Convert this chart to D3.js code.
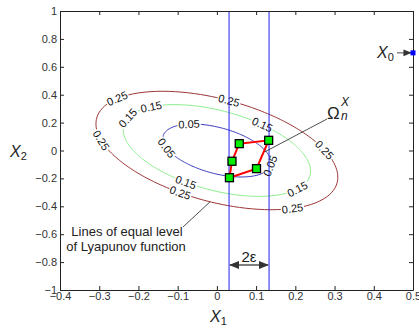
<!DOCTYPE html>
<html>
<head>
<meta charset="utf-8">
<script src="https://cdn.jsdelivr.net/npm/d3@7"></script>
<style>
  body { margin: 0; background: #fff; }
  text { font-family: "Liberation Sans", Arial, sans-serif; }
</style>
</head>
<body>
<svg id="chart" width="419" height="328"></svg>
<script>
// ticks
const xTicks = [-0.4, -0.3, -0.2, -0.1, 0, 0.1, 0.2, 0.3, 0.4, 0.5];
const yTicks = [-1, -0.8, -0.6, -0.4, -0.2, 0, 0.2, 0.4, 0.6, 0.8, 1];

// Lyapunov function V(x) = x' P x, drawn at these levels
const P = [[3.30, 1.08], [1.08, 1.74]];
const levels = [0.05, 0.15, 0.25];
const levelColors = ["#3a3ac0", "#90ee90", "#9e3535"];
// approximate spots where the inline labels sit (data coords)
const labelSpots = {
  0.05: [[-0.063, 0.168], [-0.132, 0.018], [0.128, -0.104]],
  0.15: [[-0.163, 0.305], [-0.234, 0.24], [0.105, 0.168], [-0.081, -0.233], [0.199, -0.269]],
  0.25: [[-0.247, 0.362], [0.028, 0.326], [-0.303, 0.075], [0.263, 0.004], [-0.094, -0.305], [0.191, -0.412]]
};

// the 2-epsilon band
const bandX = [0.031, 0.133];

// iteration points (closed)
const stepX = [0.057, 0.132, 0.101, 0.032, 0.0385];
const stepY = [0.049, 0.073, -0.130, -0.195, -0.077];

// starting point
const startX = 0.5, startY = 0.70;

const svg = d3.select("#chart");
const xScale = d3.scaleLinear().domain([-0.4, 0.5]).range([60, 413]);
const yScale = d3.scaleLinear().domain([-1, 1]).range([290, 11]);

// ellipse points for level c
function levelCurve(c) {
  return d3.range(0, 360, 2).map(deg => {
    const t = deg * Math.PI / 180;
    const u = [Math.cos(t), Math.sin(t)];
    const q = P[0][0]*u[0]*u[0] + 2*P[0][1]*u[0]*u[1] + P[1][1]*u[1]*u[1];
    const r = Math.sqrt(c / q);
    return [r*u[0], r*u[1]];
  });
}
function onCurve(c, p) {
  const t = Math.atan2(p[1], p[0]);
  const u = [Math.cos(t), Math.sin(t)];
  const q = P[0][0]*u[0]*u[0] + 2*P[0][1]*u[0]*u[1] + P[1][1]*u[1]*u[1];
  const r = Math.sqrt(c / q);
  return [r*u[0], r*u[1]];
}

const line = d3.line()
  .x(d => xScale(d[0]))
  .y(d => yScale(d[1]));

// contours
levels.forEach((c, i) => {
  svg.append("path")
    .datum(levelCurve(c))
    .attr("fill", "none")
    .attr("stroke", levelColors[i])
    .attr("stroke-width", 1)
    .attr("d", line.curve(d3.curveCardinalClosed));
});

// contour labels
levels.forEach(c => {
  labelSpots[c].forEach(s => {
    const p = onCurve(c, s);
    const g0 = P[0][0]*p[0] + P[0][1]*p[1];
    const g1 = P[1][0]*p[0] + P[1][1]*p[1];
    const dx = -g1 * 392.2, dy = -g0 * 139.5;
    let ang = Math.atan2(dy, dx) * 180 / Math.PI;
    if (ang > 90) ang -= 180;
    if (ang <= -90) ang += 180;
    const g = svg.append("g")
      .attr("transform", `translate(${xScale(p[0])},${yScale(p[1])}) rotate(${ang})`);
    const t = g.append("text")
      .attr("text-anchor", "middle")
      .attr("dy", "0.35em")
      .attr("font-size", 11)
      .attr("fill", "#111")
      .text(String(c));
    const w = t.node().getComputedTextLength();
    g.insert("rect", "text")
      .attr("x", -w/2 - 1).attr("y", -4)
      .attr("width", w + 2).attr("height", 8)
      .attr("fill", "#fff");
  });
});

// band lines
bandX.forEach(v => {
  svg.append("line")
    .attr("x1", xScale(v)).attr("x2", xScale(v))
    .attr("y1", yScale(1)).attr("y2", yScale(-1))
    .attr("stroke", "#2222ee").attr("stroke-width", 1);
});

// arrow markers
const defs = svg.append("defs");
defs.append("marker").attr("id", "ah")
  .attr("viewBox", "0 0 10 10").attr("refX", 9).attr("refY", 5)
  .attr("markerWidth", 7).attr("markerHeight", 7).attr("orient", "auto-start-reverse")
  .append("path").attr("d", "M0,1 L10,5 L0,9 z").attr("fill", "#333");

// 2 epsilon
svg.append("line")
  .attr("x1", xScale(bandX[0]) + 1).attr("x2", xScale(bandX[1]) - 1)
  .attr("y1", 265).attr("y2", 265)
  .attr("stroke", "#555").attr("stroke-width", 1.5)
  .attr("marker-start", "url(#ah)").attr("marker-end", "url(#ah)");
svg.append("text")
  .attr("x", (xScale(bandX[0]) + xScale(bandX[1])) / 2).attr("y", 262)
  .attr("text-anchor", "middle")
  .attr("font-family", "Liberation Serif, serif")
  .attr("font-size", 15).attr("fill", "#222")
  .text("2ε");

// iteration polygon
const steps = stepX.map((v, i) => [v, stepY[i]]);
svg.append("path")
  .datum(steps)
  .attr("fill", "none")
  .attr("stroke", "#ff0000")
  .attr("stroke-width", 2)
  .attr("d", line.curve(d3.curveLinearClosed));

svg.selectAll("rect.pt")
  .data(steps)
  .join("rect")
  .attr("class", "pt")
  .attr("x", d => xScale(d[0]) - 4)
  .attr("y", d => yScale(d[1]) - 4)
  .attr("width", 8).attr("height", 8)
  .attr("fill", "#00ee00")
  .attr("stroke", "#000").attr("stroke-width", 1.3);

// pointer lines
svg.append("line")
  .attr("x1", 327).attr("y1", 119).attr("x2", xScale(0.122)).attr("y2", yScale(-0.01))
  .attr("stroke", "#222").attr("stroke-width", 0.8);
const lyPt = onCurve(0.25, [-0.017, -0.36]);
svg.append("line")
  .attr("x1", 183).attr("y1", 227).attr("x2", xScale(lyPt[0])).attr("y2", yScale(lyPt[1]))
  .attr("stroke", "#222").attr("stroke-width", 0.8);

// axes
const axisFont = g => g.selectAll("text").attr("font-size", 11).attr("fill", "#333")
  .attr("font-family", "Liberation Sans, Arial, sans-serif");

svg.append("g")
  .attr("transform", `translate(0,${yScale(-1)})`)
  .call(d3.axisBottom(xScale).tickValues(xTicks).tickFormat(d3.format("")).tickSizeInner(-4).tickSizeOuter(0).tickPadding(2))
  .call(axisFont);
svg.append("g")
  .attr("transform", `translate(${xScale(-0.4)},0)`)
  .call(d3.axisLeft(yScale).tickValues(yTicks).tickFormat(d3.format("")).tickSizeInner(-4).tickSizeOuter(0).tickPadding(3))
  .call(axisFont);
svg.append("g")
  .attr("transform", `translate(0,${yScale(1)})`)
  .call(d3.axisTop(xScale).tickValues(xTicks).tickFormat("").tickSizeInner(-4).tickSizeOuter(0));
svg.append("g")
  .attr("transform", `translate(${xScale(0.5)},0)`)
  .call(d3.axisRight(yScale).tickValues(yTicks).tickFormat("").tickSizeInner(-4).tickSizeOuter(0));
svg.selectAll(".domain, .tick line").attr("stroke", "#222");

// start point
svg.append("line")
  .attr("x1", 397).attr("y1", yScale(startY)).attr("x2", xScale(startX) - 2).attr("y2", yScale(startY))
  .attr("stroke", "#666").attr("stroke-width", 1.2)
  .attr("marker-end", "url(#ah)");
svg.append("rect")
  .attr("x", xScale(startX) - 2.5).attr("y", yScale(startY) - 2.5)
  .attr("width", 5).attr("height", 5).attr("fill", "#0000ff");
const x0 = svg.append("text").attr("x", 377).attr("y", 58)
  .attr("font-family", "Liberation Serif, serif").attr("fill", "#222");
x0.append("tspan").attr("font-style", "italic").attr("font-size", 16).text("X");
x0.append("tspan").attr("font-family", "Liberation Sans, Arial, sans-serif").attr("font-size", 11).attr("dy", 3).text("0");

// omega label
svg.append("text").attr("x", 327).attr("y", 119)
  .attr("font-family", "Liberation Serif, serif").attr("font-size", 17).attr("fill", "#222")
  .text("Ω");
svg.append("text").attr("x", 341).attr("y", 106)
  .attr("font-family", "Liberation Serif, serif").attr("font-style", "italic").attr("font-size", 12).attr("fill", "#222")
  .text("X");
svg.append("text").attr("x", 341).attr("y", 120)
  .attr("font-family", "Liberation Serif, serif").attr("font-style", "italic").attr("font-size", 12).attr("fill", "#222")
  .text("n");

// annotation
const note = svg.append("text").attr("font-size", 13).attr("fill", "#222").attr("text-anchor", "middle");
note.append("tspan").attr("x", 127).attr("y", 236).text("Lines of equal level");
note.append("tspan").attr("x", 126).attr("y", 251).text("of Lyapunov function");

// axis titles
const xt = svg.append("text").attr("x", 210).attr("y", 322).attr("fill", "#222");
xt.append("tspan").attr("font-style", "italic").attr("font-size", 16).text("X");
xt.append("tspan").attr("font-size", 11).attr("dy", 3).text("1");
const yt = svg.append("text").attr("x", 10).attr("y", 157).attr("fill", "#222");
yt.append("tspan").attr("font-style", "italic").attr("font-size", 16).text("X");
yt.append("tspan").attr("font-size", 11).attr("dy", 3).text("2");
</script>
</body>
</html>
